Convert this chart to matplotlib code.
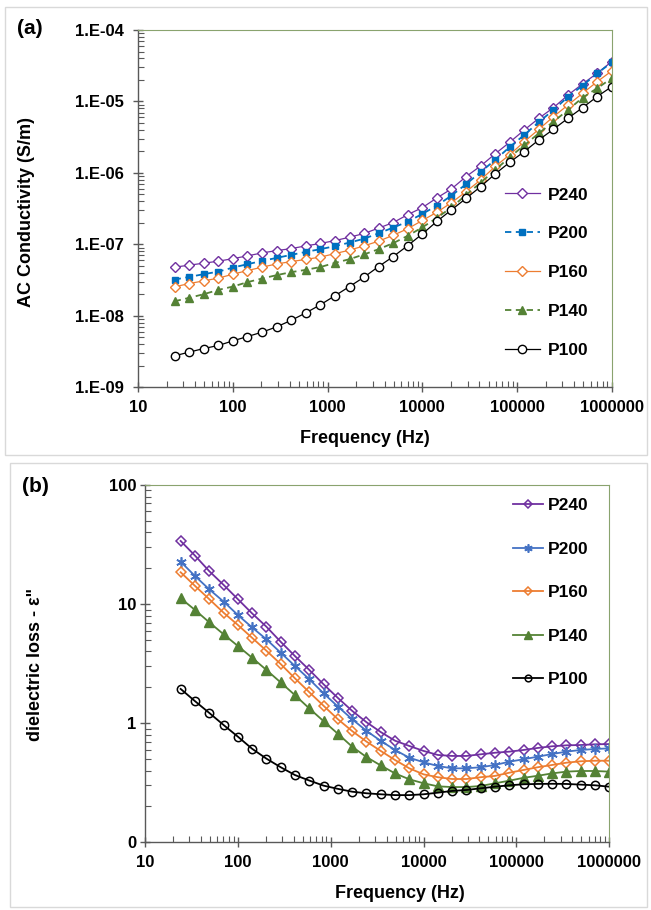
import numpy as np
import matplotlib
matplotlib.use("Agg")
import matplotlib.pyplot as plt
from matplotlib.ticker import LogLocator, FuncFormatter, NullFormatter
from matplotlib.patches import Rectangle

plt.rcParams['font.family'] = ['Liberation Sans', 'DejaVu Sans']
plt.rcParams['font.weight'] = 'bold'

# Frequencies (Hz), same for both panels
freq = [24.2, 34.6, 49.2, 70.2, 100, 142, 203, 289, 412, 588, 838, 1194, 1701,
        2424, 3455, 4924, 7017, 10000, 14251, 20309, 28943, 41246, 58780, 83768,
        119378, 170125, 242446, 345510, 492388, 701704, 1000000]

series_names = ["P240", "P200", "P160", "P140", "P100"]

# (a) AC conductivity (S/m)
sig_p240 = [4.80e-8, 5.12e-8, 5.46e-8, 5.82e-8, 6.32e-8, 6.90e-8, 7.60e-8, 8.18e-8, 8.73e-8,
            9.53e-8, 1.03e-7, 1.13e-7, 1.26e-7, 1.42e-7, 1.69e-7, 2.02e-7, 2.61e-7, 3.27e-7,
            4.47e-7, 5.97e-7, 8.87e-7, 1.25e-6, 1.85e-6, 2.69e-6, 3.99e-6, 5.82e-6, 8.18e-6,
            1.23e-5, 1.76e-5, 2.48e-5, 3.61e-5]
sig_p200 = [3.22e-8, 3.51e-8, 3.83e-8, 4.16e-8, 4.74e-8, 5.28e-8, 5.87e-8, 6.47e-8, 7.13e-8,
            7.85e-8, 8.57e-8, 9.44e-8, 1.06e-7, 1.20e-7, 1.43e-7, 1.72e-7, 2.08e-7, 2.67e-7,
            3.49e-7, 4.82e-7, 6.95e-7, 1.03e-6, 1.52e-6, 2.31e-6, 3.40e-6, 5.16e-6, 7.60e-6,
            1.16e-5, 1.67e-5, 2.47e-5, 3.51e-5]
sig_p160 = [2.55e-8, 2.83e-8, 3.09e-8, 3.37e-8, 3.83e-8, 4.30e-8, 4.80e-8, 5.33e-8, 5.74e-8,
            6.17e-8, 6.64e-8, 7.43e-8, 8.30e-8, 9.53e-8, 1.11e-7, 1.34e-7, 1.66e-7, 2.16e-7,
            2.82e-7, 3.83e-7, 5.47e-7, 7.98e-7, 1.23e-6, 1.80e-6, 2.74e-6, 4.08e-6, 6.12e-6,
            8.93e-6, 1.30e-5, 1.89e-5, 2.67e-5]
sig_p140 = [1.60e-8, 1.79e-8, 2.01e-8, 2.31e-8, 2.57e-8, 2.96e-8, 3.33e-8, 3.71e-8, 4.09e-8,
            4.40e-8, 4.82e-8, 5.51e-8, 6.21e-8, 7.24e-8, 8.57e-8, 1.04e-7, 1.32e-7, 1.73e-7,
            2.35e-7, 3.29e-7, 4.92e-7, 7.31e-7, 1.10e-6, 1.66e-6, 2.44e-6, 3.59e-6, 5.22e-6,
            7.60e-6, 1.13e-5, 1.53e-5, 2.11e-5]
sig_p100 = [2.76e-9, 3.11e-9, 3.49e-9, 3.85e-9, 4.47e-9, 5.13e-9, 5.91e-9, 7.01e-9, 8.65e-9,
            1.10e-8, 1.43e-8, 1.91e-8, 2.57e-8, 3.48e-8, 4.90e-8, 6.75e-8, 9.62e-8, 1.40e-7,
            2.10e-7, 3.04e-7, 4.40e-7, 6.43e-7, 9.68e-7, 1.41e-6, 1.99e-6, 2.90e-6, 4.08e-6,
            5.82e-6, 8.18e-6, 1.17e-5, 1.61e-5]

# (b) dielectric loss
eps_p240 = [33.9, 25.5, 18.9, 14.5, 11.0, 8.37, 6.46, 4.83, 3.66, 2.80, 2.12, 1.63, 1.27, 1.02,
            0.843, 0.713, 0.644, 0.585, 0.541, 0.531, 0.531, 0.548, 0.565, 0.577, 0.596, 0.620,
            0.640, 0.652, 0.656, 0.665, 0.668]
eps_p200 = [22.7, 17.2, 13.3, 10.5, 8.10, 6.38, 5.06, 3.91, 3.02, 2.34, 1.78, 1.38, 1.08, 0.863,
            0.711, 0.596, 0.513, 0.470, 0.437, 0.418, 0.418, 0.427, 0.446, 0.475, 0.498, 0.524,
            0.551, 0.577, 0.596, 0.607, 0.615]
eps_p160 = [18.5, 14.2, 11.0, 8.47, 6.68, 5.22, 4.06, 3.14, 2.38, 1.82, 1.40, 1.08, 0.859, 0.701,
            0.585, 0.491, 0.418, 0.372, 0.352, 0.340, 0.340, 0.352, 0.361, 0.384, 0.405, 0.427,
            0.446, 0.466, 0.479, 0.484, 0.484]
eps_p140 = [11.2, 8.92, 7.03, 5.58, 4.45, 3.55, 2.80, 2.20, 1.72, 1.33, 1.04, 0.815, 0.635, 0.520,
            0.442, 0.379, 0.338, 0.313, 0.295, 0.291, 0.291, 0.297, 0.313, 0.329, 0.348, 0.362,
            0.379, 0.392, 0.397, 0.397, 0.392]
eps_p100 = [1.94, 1.53, 1.22, 0.966, 0.771, 0.611, 0.504, 0.427, 0.367, 0.330, 0.299, 0.281,
            0.266, 0.258, 0.253, 0.249, 0.249, 0.253, 0.261, 0.270, 0.275, 0.284, 0.293, 0.301,
            0.307, 0.309, 0.310, 0.309, 0.305, 0.301, 0.293]

PURPLE = '#7030A0'
BLUE_A = '#0070C0'
BLUE_B = '#4472C4'
ORANGE = '#ED7D31'
GREEN = '#548235'
AXIS_GREY = '#595959'
FRAME_GREEN = '#8AA36E'

fig = plt.figure(figsize=(6.51, 9.10), dpi=100)

# chart-area borders (Excel style)
W, H = 651.0, 910.0
for (x0, y0, x1, y1) in [(5, 6.5, 647, 455), (10, 462.5, 647, 907)]:
    fig.patches.append(Rectangle((x0 / W, 1 - y1 / H), (x1 - x0) / W, (y1 - y0) / H,
                                 transform=fig.transFigure, fill=False,
                                 edgecolor='#D9D9D9', linewidth=1.0))

ax1 = fig.add_axes([138.3 / W, 1 - 387.3 / H, 473.4 / W, 357.3 / H])
ax2 = fig.add_axes([145.0 / W, 1 - 842.3 / H, 464.3 / W, 357.3 / H])

# ---- panel (a)
ax1.plot(freq, sig_p240, color=PURPLE, lw=0.9, marker='D', ms=5, mfc='white', mec=PURPLE, mew=1.0, label="P240")
ax1.plot(freq, sig_p200, color=BLUE_A, lw=1.3, ls=(0, (3.5, 2.5)), marker='s', ms=4, mfc=BLUE_A, mec=BLUE_A, label="P200")
ax1.plot(freq, sig_p160, color=ORANGE, lw=0.9, marker='D', ms=5, mfc='white', mec=ORANGE, mew=1.0, label="P160")
ax1.plot(freq, sig_p140, color=GREEN, lw=1.3, ls=(0, (3.5, 2.5)), marker='^', ms=6, mfc=GREEN, mec=GREEN, label="P140")
ax1.plot(freq, sig_p100, color='black', lw=0.9, marker='o', ms=6, mfc='white', mec='black', mew=1.0, label="P100")

ax1.set_yscale('log')
ax1.set_ylim(1e-9, 1e-4)
ax1.yaxis.set_major_formatter(FuncFormatter(lambda v, p: '1.E-%02d' % round(-np.log10(v))))

# ---- panel (b)
ax2.plot(freq, eps_p240, color=PURPLE, lw=1.3, marker='D', ms=5.5, mfc='none', mec=PURPLE, mew=1.1, label="P240")
ax2.plot(freq, eps_p200, color=BLUE_B, lw=1.3, marker=(6, 2, 0), ms=7.5, mec=BLUE_B, mew=1.2, label="P200")
ax2.plot(freq, eps_p160, color=ORANGE, lw=1.3, marker='D', ms=5.5, mfc='none', mec=ORANGE, mew=1.1, label="P160")
ax2.plot(freq, eps_p140, color=GREEN, lw=1.3, marker='^', ms=6.5, mfc=GREEN, mec=GREEN, label="P140")
ax2.plot(freq, eps_p100, color='black', lw=1.3, marker='o', ms=6, mfc='none', mec='black', mew=1.1, label="P100")

ax2.set_yscale('log')
ax2.set_ylim(0.1, 100)
ax2.yaxis.set_major_formatter(FuncFormatter(lambda v, p: '0' if v < 1 else '%d' % round(v)))

# ---- shared axis styling
for ax, ypad in [(ax1, 7), (ax2, 2.5)]:
    ax.set_xscale('log')
    ax.set_xlim(10, 1e6)
    ax.xaxis.set_major_formatter(FuncFormatter(lambda v, p: '%d' % round(v)))
    for axis in (ax.xaxis, ax.yaxis):
        axis.set_major_locator(LogLocator(base=10, numticks=20))
        axis.set_minor_locator(LogLocator(base=10, subs=np.arange(2, 10), numticks=100))
        axis.set_minor_formatter(NullFormatter())
    ax.tick_params(which='major', direction='inout', length=7, width=1, color=AXIS_GREY,
                   labelsize=12, top=False, right=False)
    ax.tick_params(which='minor', direction='in', length=4, width=0.8, color=AXIS_GREY,
                   top=False, right=False)
    ax.tick_params(axis='y', which='major', pad=ypad)
    ax.tick_params(axis='x', which='major', pad=6)
    ax.spines['left'].set_color(AXIS_GREY)
    ax.spines['bottom'].set_color(AXIS_GREY)
    ax.spines['left'].set_linewidth(1.0)
    ax.spines['bottom'].set_linewidth(1.0)
    ax.spines['top'].set_color(FRAME_GREEN)
    ax.spines['right'].set_color(FRAME_GREEN)
    ax.spines['top'].set_linewidth(0.8)
    ax.spines['right'].set_linewidth(0.8)

# legends
ax1.legend(loc='center left', bbox_to_anchor=(0.7746, 0.3213), frameon=False, fontsize=12.5,
           borderpad=0, borderaxespad=0, labelspacing=1.36, handlelength=2.0, handletextpad=0.45)
ax2.legend(loc='center left', bbox_to_anchor=(0.7926, 0.6986), frameon=False, fontsize=12.5,
           borderpad=0, borderaxespad=0, labelspacing=1.63, handlelength=1.75, handletextpad=0.25,
           markerscale=0.8)

# labels
fig.text(27 / W, 1 - 212 / H, "AC Conductivity (S/m)", rotation=90, ha='center', va='center', fontsize=13)
fig.text(365 / W, 1 - 438 / H, "Frequency (Hz)", ha='center', va='center', fontsize=13)
fig.text(36 / W, 1 - 664 / H, 'dielectric loss - ε"', rotation=90, ha='center', va='center', fontsize=13)
fig.text(400 / W, 1 - 893 / H, "Frequency (Hz)", ha='center', va='center', fontsize=13)
fig.text(29.5 / W, 1 - 28.5 / H, "(a)", ha='center', va='center', fontsize=15)
fig.text(35 / W, 1 - 486 / H, "(b)", ha='center', va='center', fontsize=15)

fig.savefig("out.png", dpi=100)
